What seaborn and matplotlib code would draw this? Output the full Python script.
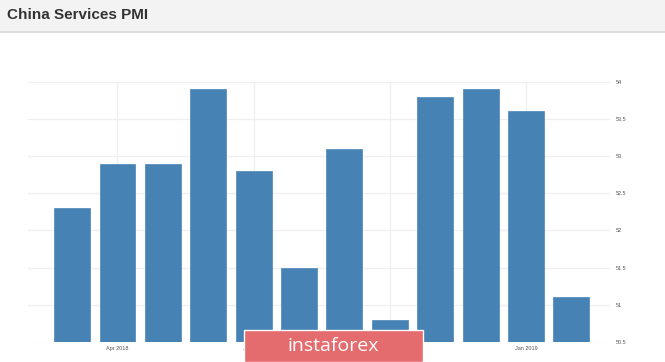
import matplotlib
matplotlib.use("Agg")
import matplotlib.pyplot as plt
from matplotlib.patches import Rectangle
import seaborn as sns
import pandas as pd

# Monthly Caixin China services PMI readings
months = ["Mar 2018", "Apr 2018", "May 2018", "Jun 2018", "Jul 2018", "Aug 2018",
          "Sep 2018", "Oct 2018", "Nov 2018", "Dec 2018", "Jan 2019", "Feb 2019"]
pmi = [52.3, 52.9, 52.9, 53.9, 52.8, 51.5, 53.1, 50.8, 53.8, 53.9, 53.6, 51.1]

tick_months = ["Apr 2018", "Jul 2018", "Oct 2018", "Jan 2019"]
y_ticks = [50.5, 51, 51.5, 52, 52.5, 53, 53.5, 54]

df = pd.DataFrame({"month": months, "pmi": pmi})

sns.set_theme(style="white")
plt.rcParams["font.family"] = ["Liberation Sans", "DejaVu Sans"]

W, H = 665, 362
fig = plt.figure(figsize=(W / 100, H / 100), dpi=100)
fig.patch.set_facecolor("white")

# header band with title
fig.add_artist(Rectangle((0, 1 - 31 / H), 1, 31 / H, transform=fig.transFigure,
                         facecolor="#f3f3f3", edgecolor="none", zorder=0))
fig.add_artist(Rectangle((0, 1 - 32.5 / H), 1, 1.5 / H, transform=fig.transFigure,
                         facecolor="#dedede", edgecolor="none", zorder=0))
fig.text(7 / W, 1 - 15 / H, "China Services PMI", fontsize=11, fontweight="bold",
         color="#333333", va="center", ha="left")

left, right = 28 / W, 610 / W
bottom, top = (H - 342) / H, (H - 81.7) / H
ax = fig.add_axes([left, bottom, right - left, top - bottom])

sns.barplot(data=df, x="month", y="pmi", color="#4682b4", saturation=1,
            width=0.79, ax=ax, zorder=3, edgecolor="#5a90bf", linewidth=0.6)

ax.set_ylim(50.5, 54)
ax.set_xlim(-0.97, 11.85)
ax.set_yticks(y_ticks)
ax.set_yticklabels([f"{v:g}" for v in y_ticks])
ax.yaxis.tick_right()
ax.set_xticks([months.index(m) for m in tick_months])
ax.set_xticklabels(tick_months)
ax.tick_params(axis="y", length=0, pad=4.5, labelsize=4, labelcolor="#555555")
ax.tick_params(axis="x", length=0, pad=3, labelsize=4, labelcolor="#555555")
ax.set_xlabel("")
ax.set_ylabel("")
ax.grid(True, color="#efefef", linewidth=0.9, zorder=0)
ax.set_axisbelow(True)
for s in ax.spines.values():
    s.set_visible(False)

# watermark badge
x0, y0, bw, bh = 244 / W, 1 - 362 / H, (423 - 244) / W, 32 / H
fig.add_artist(Rectangle((x0, y0), bw, bh, transform=fig.transFigure,
                         facecolor="#e46b6e", edgecolor="white", linewidth=1.0, zorder=10))
fig.text(x0 + bw / 2, 1 - 346 / H, "instaforex", fontsize=14, color="white",
         ha="center", va="center", zorder=11, family=["Open Sans", "DejaVu Sans"])

fig.savefig("out.png", dpi=100)
